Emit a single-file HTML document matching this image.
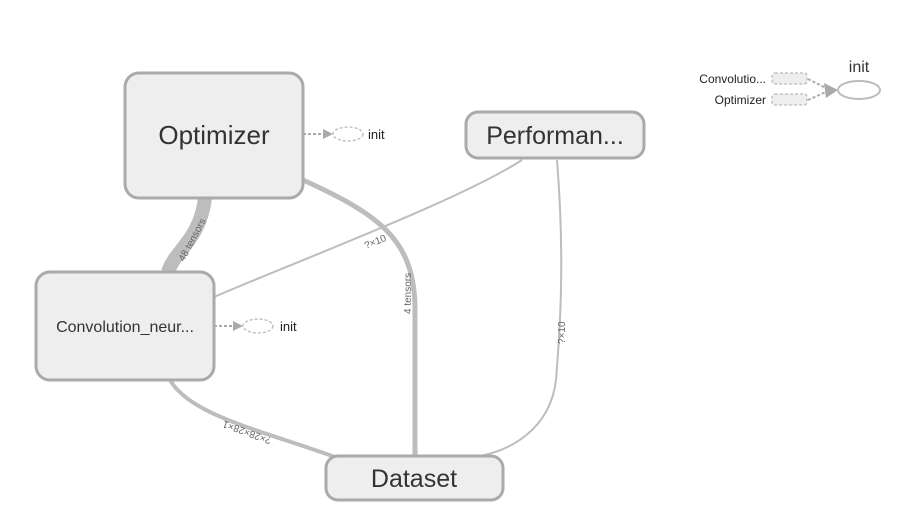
<!DOCTYPE html>
<html><head><meta charset="utf-8"><style>
html,body{margin:0;padding:0;background:#fff;}
svg{display:block;font-family:"Liberation Sans",sans-serif;}
</style></head><body>
<svg width="920" height="521" viewBox="0 0 920 521" xmlns="http://www.w3.org/2000/svg">
<g fill="none" stroke="#bdbdbd">
<path d="M205,198 C200,240 175,250 168,272" stroke-width="14"/>
<path d="M303,180 C380,215 415,240 415,310 L415,456" stroke-width="5"/>
<path d="M522,160 C460,200 300,260 214,297" stroke-width="2"/>
<path d="M557,160 C565,260 560,330 556,380 C550,430 510,450 480,456" stroke-width="2"/>
<path d="M170,380 C190,415 260,430 335,457" stroke-width="4"/>
<path d="M303,134 L324,134" stroke="#aaa" stroke-width="2" stroke-dasharray="3,2"/>
<path d="M214,326 L234,326" stroke="#aaa" stroke-width="2" stroke-dasharray="3,2"/>
<path d="M808,79 L828,89 M808,100 L828,91" stroke="#aaa" stroke-width="2" stroke-dasharray="3,2"/>
</g>
<g fill="#aaa">
<polygon points="323,129 333,134 323,139"/>
<polygon points="233,321 243,326 233,331"/>
<polygon points="824,83 838,90 826,98"/>
</g>
<g fill="none" stroke="#bbb" stroke-width="1.3" stroke-dasharray="3,2">
<ellipse cx="348" cy="134" rx="15" ry="7"/>
<ellipse cx="258" cy="326" rx="15" ry="7"/>
<rect x="772" y="73" width="35" height="11" rx="3" fill="#eee"/>
<rect x="772" y="94" width="35" height="11" rx="3" fill="#eee"/>
</g>
<ellipse cx="859" cy="90" rx="21" ry="9" fill="none" stroke="#bbb" stroke-width="2"/>
<g fill="#eee" stroke="#aaa" stroke-width="3">
<rect x="125" y="73" width="178" height="125" rx="14"/>
<rect x="466" y="112" width="178" height="46" rx="12"/>
<rect x="36" y="272" width="178" height="108" rx="14"/>
<rect x="326" y="456" width="177" height="44" rx="12"/>
</g>
<g fill="#333" text-anchor="middle">
<text x="214" y="144" font-size="26">Optimizer</text>
<text x="555" y="144" font-size="25">Performan...</text>
<text x="125" y="332" font-size="16">Convolution_neur...</text>
<text x="414" y="487" font-size="25">Dataset</text>
<text x="859" y="72" font-size="16">init</text>
</g>
<g fill="#222" font-size="13">
<text x="368" y="139">init</text>
<text x="280" y="331">init</text>
<text x="766" y="83" text-anchor="end" font-size="12">Convolutio...</text>
<text x="766" y="104" text-anchor="end" font-size="12">Optimizer</text>
</g>
<g fill="#666" font-size="10">
<text transform="translate(184,262) rotate(-62)">48 tensors</text>
<text transform="translate(411,314) rotate(-90)">4 tensors</text>
<text transform="translate(366,249) rotate(-22)">?×10</text>
<text transform="translate(565,344) rotate(-90)">?×10</text>
<text transform="translate(272,438) rotate(200)">?×28×28×1</text>
</g>
</svg>
</body></html>
